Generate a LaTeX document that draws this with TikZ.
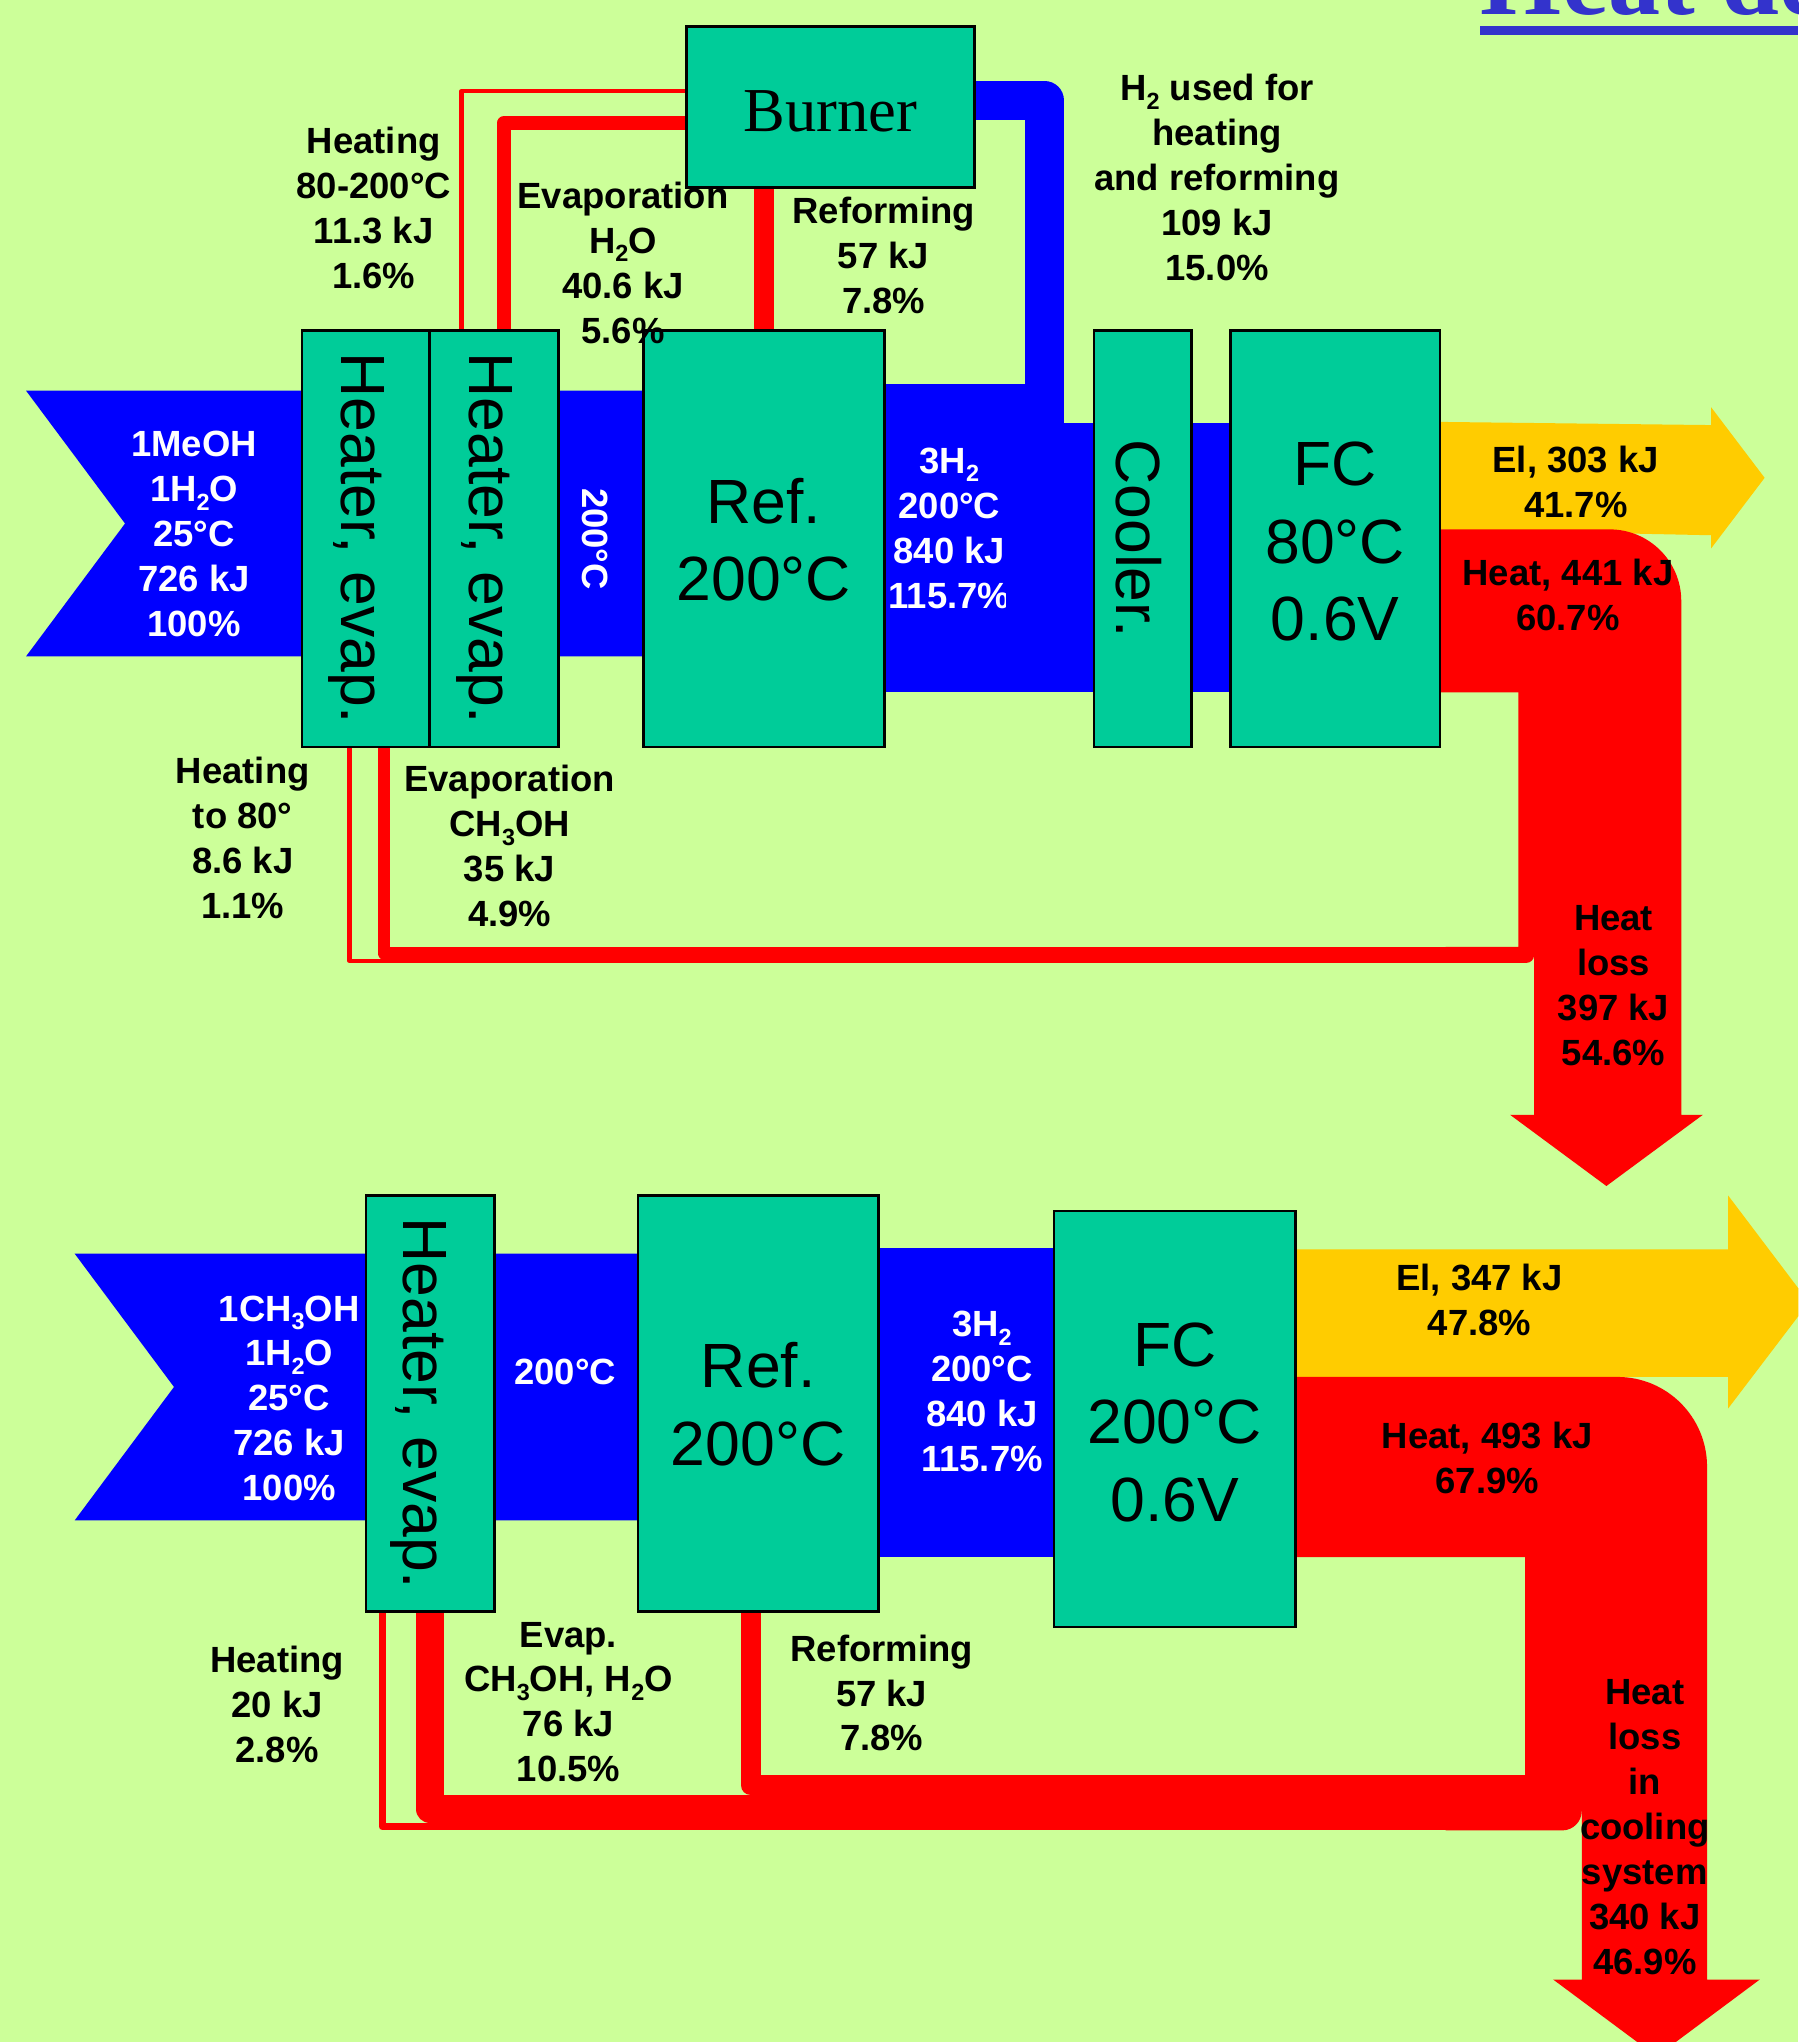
\documentclass[tikz,border=0pt]{standalone}
\usepackage{fontspec}
\setmainfont{Liberation Sans}
\newfontfamily\titlefont{Liberation Serif}
\definecolor{bggreen}{HTML}{CCFF99}
\definecolor{boxteal}{HTML}{00CC99}
\definecolor{flowblue}{HTML}{0000FF}
\definecolor{flowred}{HTML}{FF0000}
\definecolor{flowyellow}{HTML}{FFCC00}
\definecolor{titleblue}{HTML}{3333CC}
\newcommand\mylines[1]{\begin{tabular}[t]{@{}c@{}}#1\end{tabular}}
\newcommand\msub[1]{\raisebox{-6.5pt}{\fontsize{18}{18}\selectfont #1}}
\tikzset{
  unitbox/.style={draw=black,line width=2pt,fill=boxteal,inner sep=0pt,outer sep=0pt},
  lbl/.style={anchor=base,inner sep=0pt,outer sep=0pt,font=\fontsize{28}{34.5}\selectfont\bfseries},
  wlbl/.style={lbl,text=white},
  bigtxt/.style={anchor=base,inner sep=0pt,outer sep=0pt,font=\fontsize{48}{59.5}\selectfont},
  verttxt/.style={bigtxt,rotate=-90},
  redflow/.style={draw=flowred,line join=round},
}
\begin{document}
\begin{tikzpicture}[x=1pt,y=-1pt]
\useasboundingbox (0,0) rectangle (1381,1568);
\fill[bggreen] (0,0) rectangle (1381,1568);
\clip (0,0) rectangle (1381,1568);

% ---------- title (cut off at the top, as in the reference) ----------
\node[anchor=base west,inner sep=0pt,text=titleblue,font=\titlefont\bfseries\fontsize{80}{96}\selectfont] (title) at (1137,11.5) {Heat de};
\fill[titleblue] (1136.6,20) rectangle (1381,26.9);

% ================= TOP DIAGRAM =================
% blue flows
\fill[flowblue] (20,300) -- (500,300) -- (500,504) -- (20,504) -- (96,402) -- cycle;
\fill[flowblue] (675,295.2) rectangle (790,531.6);
\node[wlbl] (w1) at (149,350.7) {\mylines{1MeOH\\1H\msub{2}O\\25°C\\726 kJ\\100\%}};
\node[wlbl,rotate=-90] (w2) at (447.5,413.8) {200°C};
\node[wlbl] (w3) at (729,363.5) {\mylines{3H\msub{2}\\200°C\\840 kJ\\115.7\%}};
\fill[flowblue] (772.8,324.7) rectangle (950,531.6);
\draw[flowblue,line width=30pt,line join=round] (802,330) -- (802,77) -- (740,77);

% electricity and heat
\fill[flowyellow] (1100,323.9) -- (1314,326.4) -- (1314,312.8) -- (1355,366.9) -- (1314,421) -- (1314,411) -- (1100,406.5) -- cycle;
\fill[flowred] (1100,406.5) -- (1236,406.5) .. controls (1266.4,406.5) and (1291,431.1) .. (1291,461.5) -- (1291,856) -- (1307.6,856) -- (1233.5,910.7) -- (1159.5,856) -- (1178,856) -- (1178,531.6) -- (1100,531.6) -- cycle;

% heat returned to the heaters
\draw[redflow,line width=9.7pt] (295,565) -- (295,732) -- (1120,732);
\draw[redflow,line width=3.4pt] (268.3,565) -- (268.3,737.7) -- (1120,737.7);
\fill[flowred] (1110,727.1) -- (1166,727.1) -- (1166,525) -- (1178,525) -- (1178,733.4) .. controls (1178,736.7) and (1175.3,739.4) .. (1172,739.4) -- (1110,739.4) -- cycle;

% heat from the burner
\draw[redflow,line width=3.4pt] (354.5,262) -- (354.5,69.9) -- (540,69.9);
\draw[redflow,line width=11pt] (386.9,262) -- (386.9,94.7) -- (540,94.7);
\draw[redflow,line width=15pt] (586.5,130) -- (586.5,262);

% units
\node[unitbox,minimum width=98pt,minimum height=319.5pt] (h1) at (281,413.75) {};
\node[unitbox,minimum width=99pt,minimum height=319.5pt] (h2) at (379.5,413.75) {};
\node[unitbox,minimum width=185pt,minimum height=319.5pt] (ref1) at (586.5,413.75) {};
\node[unitbox,minimum width=75pt,minimum height=319.5pt] (cool) at (877.5,413.75) {};
\node[unitbox,minimum width=160.6pt,minimum height=319.5pt] (fc1) at (1025.3,413.75) {};
\node[unitbox,minimum width=221.5pt,minimum height=123.5pt] (burn) at (637.75,82.25) {};

\node[verttxt] (h1t) at (262.4,413.5) {Heater, evap.};
\node[verttxt] (h2t) at (360.7,413.5) {Heater, evap.};
\node[bigtxt] (ref1t) at (586.5,401.7) {\mylines{Ref.\\200°C}};
\node[verttxt] (coolt) at (857,413.5) {Cooler.};
\node[bigtxt] (fc1t) at (1025.3,373) {\mylines{FC\\80°C\\0.6V}};
\node[anchor=base,inner sep=0pt,font=\titlefont\fontsize{48}{58}\selectfont] (burnt) at (637.75,101) {Burner};

% labels
\node[lbl] (l1) at (287,117.8) {\mylines{Heating\\80-200°C\\11.3 kJ\\1.6\%}};
\node[lbl] (l2) at (478.4,160) {\mylines{Evaporation\\H\msub{2}O\\40.6 kJ\\5.6\%}};
\node[lbl] (l3) at (678.5,172) {\mylines{Reforming\\57 kJ\\7.8\%}};
\node[lbl] (l4) at (934.5,77.3) {\mylines{H\msub{2} used for\\heating\\and reforming\\109 kJ\\15.0\%}};
\node[lbl] (l5) at (1210,363) {\mylines{El, 303 kJ\\41.7\%}};
\node[lbl] (l6) at (1204,449.3) {\mylines{Heat, 441 kJ\\60.7\%}};
\node[lbl] (l7) at (1239,714.3) {\mylines{Heat\\loss\\397 kJ\\54.6\%}};
\node[lbl] (l8) at (186.4,601.6) {\mylines{Heating\\to 80°\\8.6 kJ\\1.1\%}};
\node[lbl] (l9) at (391.3,608) {\mylines{Evaporation\\CH\msub{3}OH\\35 kJ\\4.9\%}};

% ================= BOTTOM DIAGRAM =================
\fill[flowblue] (57.3,962.6) -- (500,962.6) -- (500,1167.5) -- (57.3,1167.5) -- (133.6,1065) -- cycle;
\fill[flowblue] (670,958.6) rectangle (815,1195.6);
\node[wlbl] (w4) at (222,1014.4) {\mylines{1CH\msub{3}OH\\1H\msub{2}O\\25°C\\726 kJ\\100\%}};
\node[wlbl] (w5) at (434,1063) {200°C};
\node[wlbl] (w6) at (754,1026.6) {\mylines{3H\msub{2}\\200°C\\840 kJ\\115.7\%}};

\fill[flowyellow] (990,959.3) -- (1327,959.3) -- (1327,918) -- (1389,1000) -- (1327,1081.5) -- (1327,1057.3) -- (990,1057.3) -- cycle;
\fill[flowred] (990,1057.3) -- (1242,1057.3) .. controls (1280.1,1057.3) and (1310.8,1088.2) .. (1310.8,1126.3) -- (1310.8,1520) -- (1351.3,1520) -- (1272,1579) -- (1192.6,1520) -- (1214.6,1520) -- (1214.6,1195.6) -- (990,1195.6) -- cycle;

\draw[redflow,line width=15.6pt] (576.5,1230) -- (576.5,1370.8) -- (1120,1370.8);
\draw[redflow,line width=21.4pt] (330.3,1230) -- (330.3,1389.3) -- (1120,1389.3);
\draw[redflow,line width=5.5pt] (293.6,1230) -- (293.6,1402.75) -- (1120,1402.75);
\fill[flowred] (1110,1363) -- (1171,1363) -- (1171,1190) -- (1214.6,1190) -- (1214.6,1390.5) .. controls (1214.6,1398.8) and (1207.9,1405.5) .. (1199.6,1405.5) -- (1110,1405.5) -- cycle;

\node[unitbox,minimum width=98.7pt,minimum height=319.6pt] (h3) at (330.3,1077.6) {};
\node[unitbox,minimum width=184.8pt,minimum height=319.6pt] (ref2) at (582.2,1077.6) {};
\node[unitbox,minimum width=185.2pt,minimum height=319.4pt] (fc2) at (902,1089.7) {};

\node[verttxt] (h3t) at (310,1077.6) {Heater, evap.};
\node[bigtxt] (ref2t) at (582.2,1065.6) {\mylines{Ref.\\200°C}};
\node[bigtxt] (fc2t) at (902,1049) {\mylines{FC\\200°C\\0.6V}};

\node[lbl] (l10) at (1136,990.8) {\mylines{El, 347 kJ\\47.8\%}};
\node[lbl] (l11) at (1142,1112.4) {\mylines{Heat, 493 kJ\\67.9\%}};
\node[lbl] (l12) at (1263,1308.8) {\mylines{Heat\\loss\\in\\cooling\\system\\340 kJ\\46.9\%}};
\node[lbl] (l13) at (212.8,1284) {\mylines{Heating\\20 kJ\\2.8\%}};
\node[lbl] (l14) at (436.5,1264.7) {\mylines{Evap.\\CH\msub{3}OH, H\msub{2}O\\76 kJ\\10.5\%}};
\node[lbl] (l15) at (677,1275.5) {\mylines{Reforming\\57 kJ\\7.8\%}};
\end{tikzpicture}
\end{document}
